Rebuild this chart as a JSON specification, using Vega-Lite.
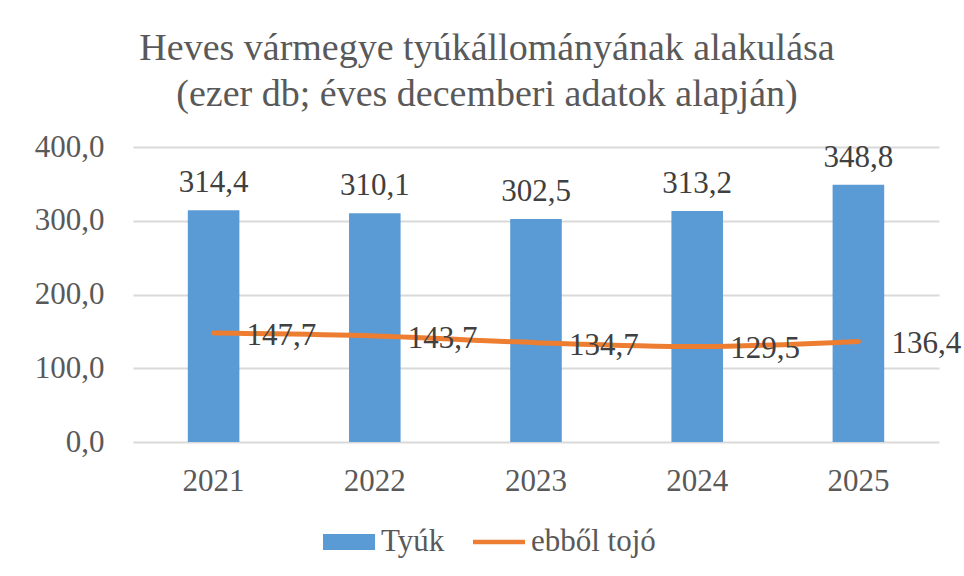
{
  "$schema": "https://vega.github.io/schema/vega-lite/v6.json",
  "width": 806,
  "height": 295,
  "autosize": {"type": "none"},
  "padding": {"left": 133, "top": 147, "right": 25, "bottom": 134},
  "view": {"stroke": null},
  "title": {
    "text": ["Heves vármegye tyúkállományának alakulása", "(ezer db; éves decemberi adatok alapján)"],
    "font": "serif",
    "fontSize": 38,
    "fontWeight": "normal",
    "color": "#595959",
    "lineHeight": 46,
    "anchor": "middle",
    "dx": -49,
    "offset": 17
  },
  "data": {
    "values": [
      {"ev": "2021", "tyuk": 314.4, "tojo": 147.7},
      {"ev": "2022", "tyuk": 310.1, "tojo": 143.7},
      {"ev": "2023", "tyuk": 302.5, "tojo": 134.7},
      {"ev": "2024", "tyuk": 313.2, "tojo": 129.5},
      {"ev": "2025", "tyuk": 348.8, "tojo": 136.4}
    ]
  },
  "encoding": {
    "x": {
      "field": "ev",
      "type": "nominal",
      "scale": {"paddingInner": 0.68, "paddingOuter": 0.34},
      "axis": {
        "title": null,
        "labelAngle": 0,
        "labelFont": "serif",
        "labelFontSize": 31,
        "labelColor": "#595959",
        "labelPadding": 24,
        "ticks": false,
        "domain": false
      }
    }
  },
  "layer": [
    {
      "mark": {"type": "bar", "color": "#5B9BD5"},
      "encoding": {
        "y": {
          "field": "tyuk",
          "type": "quantitative",
          "scale": {"domain": [0, 400]},
          "axis": {
            "title": null,
            "values": [0, 100, 200, 300, 400],
            "labelExpr": "replace(format(datum.value, '.1f'), '.', ',')",
            "labelFont": "serif",
            "labelFontSize": 31,
            "labelColor": "#595959",
            "labelPadding": 29,
            "ticks": false,
            "domain": false,
            "gridColor": "#D9D9D9",
            "gridWidth": 2
          }
        },
        "color": {
          "datum": "Tyúk",
          "type": "nominal",
          "scale": {"domain": ["Tyúk", "ebből tojó"], "range": ["#5B9BD5", "#ED7D31"]},
          "legend": {
            "title": null,
            "orient": "none",
            "direction": "horizontal",
            "legendX": 190,
            "legendY": 369,
            "labelFont": "serif",
            "labelFontSize": 31,
            "labelColor": "#595959",
            "labelOffset": 6,
            "columnPadding": 28,
            "symbolSize": 2704,
            "symbolStrokeWidth": 0,
            "encode": {
              "symbols": {
                "update": {
                  "shape": {"signal": "datum.value === 'Tyúk' ? 'M-1,-0.31H1V0.31H-1Z' : 'M-1,-0.09H1V0.09H-1Z'"},
                  "fill": {"signal": "datum.value === 'Tyúk' ? '#5B9BD5' : '#ED7D31'"},
                  "strokeWidth": {"value": 0},
                  "opacity": {"value": 1}
                }
              }
            }
          }
        }
      }
    },
    {
      "mark": {"type": "text", "baseline": "alphabetic", "dy": -18, "font": "serif", "fontSize": 31, "color": "#404040",
        "text": {"expr": "replace(format(datum.tyuk, '.1f'), '.', ',')"}},
      "encoding": {
        "y": {"field": "tyuk", "type": "quantitative"}
      }
    },
    {
      "mark": {"type": "line", "interpolate": "monotone", "strokeWidth": 5, "strokeCap": "round", "color": "#ED7D31"},
      "encoding": {
        "y": {"field": "tojo", "type": "quantitative"},
        "color": {"datum": "ebből tojó", "type": "nominal"}
      }
    },
    {
      "mark": {"type": "text", "align": "left", "baseline": "alphabetic", "dx": 33, "dy": 12, "font": "serif", "fontSize": 31, "color": "#404040",
        "text": {"expr": "replace(format(datum.tojo, '.1f'), '.', ',')"}},
      "encoding": {
        "y": {"field": "tojo", "type": "quantitative"}
      }
    }
  ]
}
